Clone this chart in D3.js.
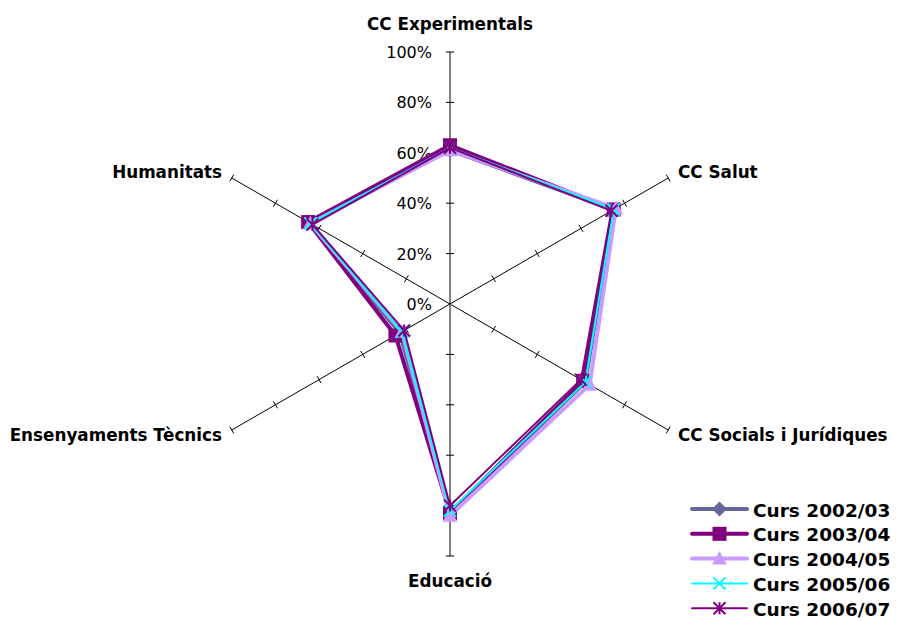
<!DOCTYPE html>
<html>
<head>
<meta charset="utf-8">
<script src="https://cdn.jsdelivr.net/npm/d3@7"></script>
<style>
  html, body { margin: 0; padding: 0; background: #fff; }
  svg { display: block; }
</style>
</head>
<body>
<svg id="chart" width="900" height="621"></svg>
<script>
const categories = ["CC Experimentals", "CC Salut", "CC Socials i Jurídiques", "Educació", "Ensenyaments Tècnics", "Humanitats"];
const seriesNames = ["Curs 2002/03", "Curs 2003/04", "Curs 2004/05", "Curs 2005/06", "Curs 2006/07"];
const values2002 = [0.61, 0.75, 0.62, 0.83, 0.23, 0.65];
const values2003 = [0.63, 0.75, 0.61, 0.83, 0.25, 0.65];
const values2004 = [0.61, 0.76, 0.64, 0.84, 0.22, 0.64];
const values2005 = [0.62, 0.75, 0.62, 0.82, 0.22, 0.64];
const values2006 = [0.62, 0.74, 0.60, 0.80, 0.21, 0.63];
const tickValues = [0, 0.2, 0.4, 0.6, 0.8, 1.0];
const tickLabels = ["0%", "20%", "40%", "60%", "80%", "100%"];

const seriesValues = [values2002, values2003, values2004, values2005, values2006];
const seriesColors = ["#666699", "#800080", "#CC99FF", "#00FFFF", "#800080"];
const seriesWidths = [4, 4, 4, 2, 2];
const seriesMarkers = ["diamond", "square", "triangle", "x", "star"];

const svg = d3.select("#chart");
const cx = 450, cy = 304, R = 252;
const r = d3.scaleLinear().domain([0, 1]).range([0, R]);
const angle = d3.scaleLinear().domain([0, categories.length]).range([0, 2 * Math.PI]);
const pt = (i, v) => [cx + r(v) * Math.sin(angle(i)), cy - r(v) * Math.cos(angle(i))];

// spokes
const axes = svg.append("g");
categories.forEach((c, i) => {
  const [x2, y2] = pt(i, 1);
  const vertical = (i === 0 || i === 3);
  axes.append("line")
    .attr("x1", cx).attr("y1", cy).attr("x2", x2).attr("y2", y2)
    .attr("stroke", vertical ? "#808080" : "#000")
    .attr("stroke-width", vertical ? 2 : 1);
  tickValues.slice(1).forEach(t => {
    const [tx, ty] = pt(i, t);
    const a = angle(i);
    const px = Math.cos(a) * 4, py = Math.sin(a) * 4;
    axes.append("line")
      .attr("x1", tx - px).attr("y1", ty - py).attr("x2", tx + px).attr("y2", ty + py)
      .attr("stroke", "#000").attr("stroke-width", 1);
  });
});

// value axis labels
tickValues.forEach((t, k) => {
  svg.append("text")
    .attr("x", cx - 18).attr("y", cy - r(t) + 6)
    .attr("text-anchor", "end")
    .attr("font-family", "DejaVu Sans, sans-serif")
    .attr("font-size", 16)
    .attr("fill", "#000")
    .text(tickLabels[k]);
});

// category labels
const labelPos = [
  {x: 450, y: 30, anchor: "middle"},
  {x: 678, y: 178, anchor: "start"},
  {x: 678, y: 441, anchor: "start"},
  {x: 450, y: 587, anchor: "middle"},
  {x: 222, y: 441, anchor: "end"},
  {x: 222, y: 178, anchor: "end"}
];
categories.forEach((c, i) => {
  svg.append("text")
    .attr("x", labelPos[i].x).attr("y", labelPos[i].y)
    .attr("text-anchor", labelPos[i].anchor)
    .attr("font-family", "DejaVu Sans, sans-serif")
    .attr("font-weight", "bold")
    .attr("font-size", 16.8)
    .attr("fill", "#000")
    .text(c);
});

function markerPath(type, s) {
  const h = s / 2;
  switch (type) {
    case "diamond": return `M0,${-h}L${h},0L0,${h}L${-h},0Z`;
    case "square": return `M${-h},${-h}H${h}V${h}H${-h}Z`;
    case "triangle": return `M0,${-h}L${h},${h * 0.8}L${-h},${h * 0.8}Z`;
    case "x": return `M${-h},${-h}L${h},${h}M${h},${-h}L${-h},${h}`;
    case "star": return `M${-h},${-h}L${h},${h}M${h},${-h}L${-h},${h}M0,${-h}V${h}`;
  }
}
function drawMarker(g, type, color, x, y) {
  const filled = type === "diamond" || type === "square" || type === "triangle";
  const sz = type === "diamond" ? 15 : (type === "triangle" ? 15 : (type === "square" ? 14 : 12));
  g.append("path")
    .attr("d", markerPath(type, sz))
    .attr("transform", `translate(${x},${y})`)
    .attr("fill", filled ? color : "none")
    .attr("stroke", color)
    .attr("stroke-width", filled ? 0 : 2);
}

const line = d3.lineRadial()
  .angle((d, i) => angle(i))
  .radius(d => r(d))
  .curve(d3.curveLinearClosed);

const plot = svg.append("g");
seriesValues.forEach((vals, s) => {
  const g = plot.append("g");
  g.append("path")
    .attr("d", line(vals))
    .attr("transform", `translate(${cx},${cy})`)
    .attr("fill", "none")
    .attr("stroke", seriesColors[s])
    .attr("stroke-width", seriesWidths[s])
    .attr("stroke-linejoin", "miter");
  vals.forEach((v, i) => {
    const [x, y] = pt(i, v);
    drawMarker(g, seriesMarkers[s], seriesColors[s], x, y);
  });
});

// legend
const legend = svg.append("g");
seriesNames.forEach((name, s) => {
  const y = 509 + s * 24.8;
  legend.append("line")
    .attr("x1", 692).attr("x2", 747).attr("y1", y).attr("y2", y)
    .attr("stroke", seriesColors[s]).attr("stroke-width", seriesWidths[s])
    .attr("stroke-linecap", "round");
  drawMarker(legend, seriesMarkers[s], seriesColors[s], 719.5, y);
  legend.append("text")
    .attr("x", 753).attr("y", y + 7.5)
    .attr("font-family", "DejaVu Sans, sans-serif")
    .attr("font-weight", "bold")
    .attr("font-size", 18.5)
    .attr("fill", "#000")
    .text(name);
});
</script>
</body>
</html>
